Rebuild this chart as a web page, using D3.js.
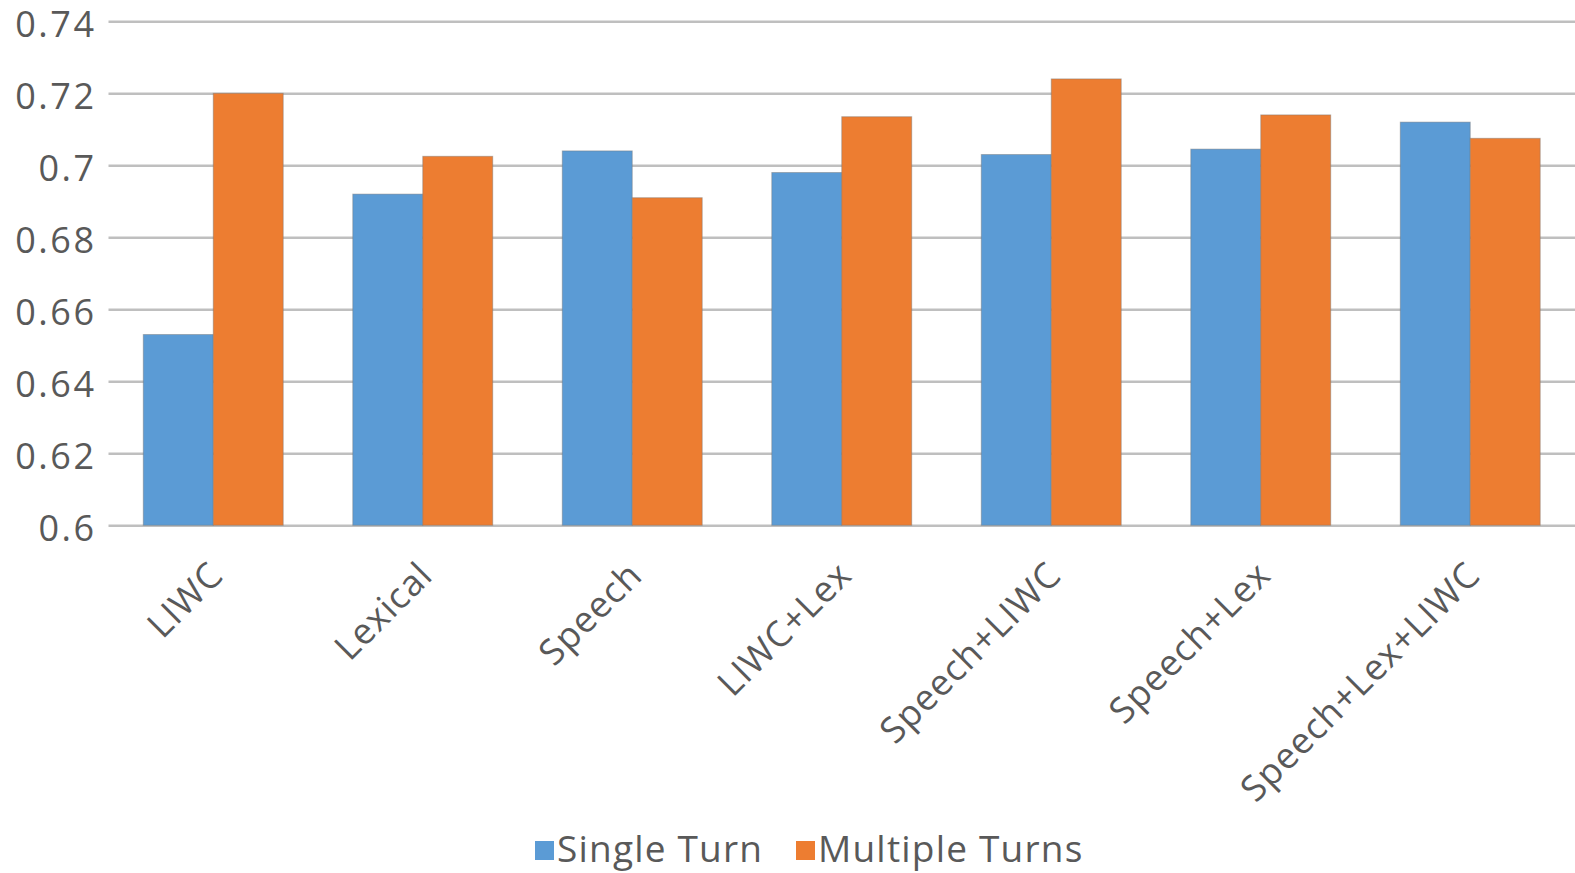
<!DOCTYPE html>
<html>
<head>
<meta charset="utf-8">
<script src="https://cdn.jsdelivr.net/npm/d3@7"></script>
<style>
  html, body { margin: 0; padding: 0; background: #fff; }
  svg { display: block; }
  text { font-family: "Open Sans", "Noto Sans", sans-serif; fill: #595959; }
</style>
</head>
<body>
<svg id="chart" width="1575" height="873"></svg>
<script>
// Feature sets compared
const categories = ["LIWC", "Lexical", "Speech", "LIWC+Lex", "Speech+LIWC", "Speech+Lex", "Speech+Lex+LIWC"];
const seriesNames = ["Single Turn", "Multiple Turns"];
const singleTurn = [0.653, 0.692, 0.704, 0.698, 0.703, 0.7045, 0.712];
const multipleTurns = [0.720, 0.7025, 0.691, 0.7135, 0.724, 0.714, 0.7075];
const tickValues = [0.6, 0.62, 0.64, 0.66, 0.68, 0.7, 0.72, 0.74];
const tickLabels = ["0.6", "0.62", "0.64", "0.66", "0.68", "0.7", "0.72", "0.74"];
const colors = ["#5B9BD5", "#ED7D31"];

const svg = d3.select("#chart");
const plot = { left: 108.5, right: 1575, top: 21.3, bottom: 525.3 };

const x = d3.scaleBand()
  .domain(categories)
  .range([plot.left, plot.right])
  .paddingInner(0.332)
  .paddingOuter(0.166);

const xSeries = d3.scaleBand()
  .domain(seriesNames)
  .range([0, x.bandwidth()]);

const y = d3.scaleLinear()
  .domain([0.6, 0.74])
  .range([plot.bottom, plot.top]);

const color = d3.scaleOrdinal().domain(seriesNames).range(colors);

// Horizontal gridlines with value labels
const yAxis = d3.axisLeft(y)
  .tickValues(tickValues)
  .tickFormat((d, i) => tickLabels[i])
  .tickSize(-(plot.right - plot.left))
  .tickPadding(12);

const gy = svg.append("g")
  .attr("transform", `translate(${plot.left},0)`)
  .call(yAxis);
gy.select(".domain").remove();
gy.selectAll(".tick line").attr("stroke", "#BFBFBF").attr("stroke-width", 2.6);
gy.selectAll(".tick text")
  .attr("font-size", 36)
  .attr("fill", "#595959")
  .attr("letter-spacing", 2.5)
  .attr("dy", "0.42em")
  .style("font-family", "'Open Sans', sans-serif");

// Grouped bars
const rows = categories.map((c, i) => ({ category: c, values: [singleTurn[i], multipleTurns[i]] }));

const groups = svg.append("g").selectAll("g")
  .data(rows)
  .join("g")
  .attr("transform", d => `translate(${x(d.category)},0)`);

groups.selectAll("rect")
  .data(d => d.values.map((v, k) => ({ series: seriesNames[k], value: v })))
  .join("rect")
  .attr("x", d => xSeries(d.series))
  .attr("width", xSeries.bandwidth())
  .attr("y", d => y(d.value))
  .attr("height", d => y(0.6) - y(d.value))
  .attr("fill", d => color(d.series))
  .attr("stroke", "rgba(120,120,120,0.45)")
  .attr("stroke-width", 1);

// Rotated category labels
const xAxis = d3.axisBottom(x).tickSize(0).tickPadding(0);
const gx = svg.append("g")
  .attr("transform", `translate(0,${plot.bottom})`)
  .call(xAxis);
gx.select(".domain").remove();
gx.selectAll(".tick text")
  .attr("font-size", 36)
  .attr("fill", "#595959")
  .attr("letter-spacing", 1.0)
  .style("font-family", "'Open Sans', sans-serif")
  .attr("text-anchor", "end")
  .attr("dy", null)
  .attr("y", 0)
  .attr("transform", "translate(12,52) rotate(-45)");

// Legend
const legend = svg.append("g");
const legendItems = [
  { name: seriesNames[0], x: 535 },
  { name: seriesNames[1], x: 796 }
];
const li = legend.selectAll("g")
  .data(legendItems)
  .join("g")
  .attr("transform", d => `translate(${d.x},841)`);
li.append("rect")
  .attr("width", 19)
  .attr("height", 19)
  .attr("fill", d => color(d.name));
li.append("text")
  .attr("x", 22)
  .attr("y", 21)
  .attr("font-size", 37)
  .attr("letter-spacing", 1.2)
  .attr("fill", "#595959")
  .text(d => d.name);
</script>
</body>
</html>
